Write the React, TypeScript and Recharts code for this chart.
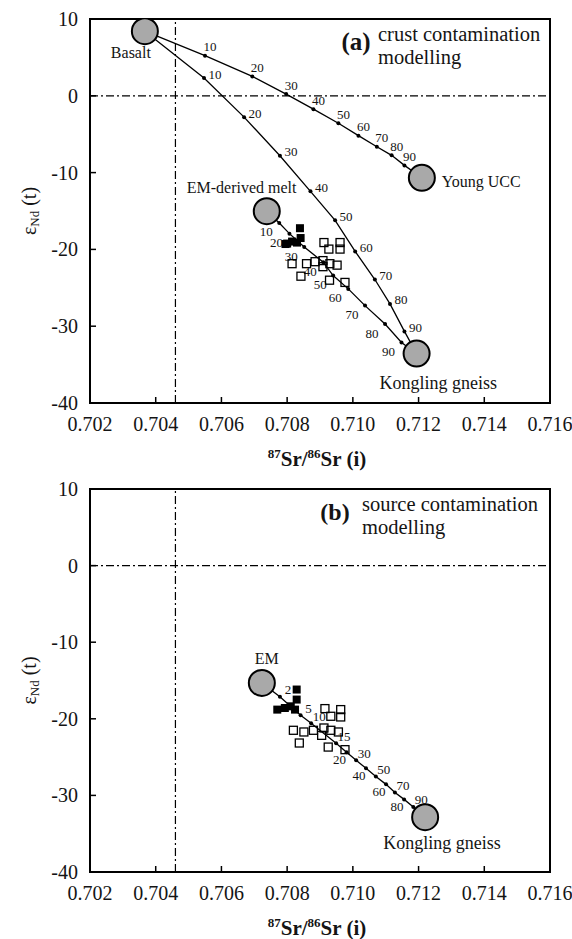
import React from 'react';
import { ScatterChart, Scatter, XAxis, YAxis, ReferenceLine, ReferenceArea, Label } from 'recharts';

const FONT = '"Liberation Serif", "Times New Roman", Times, serif';
const INK = '#141414';

// ---- axes ----
const xTicks = [0.702, 0.704, 0.706, 0.708, 0.71, 0.712, 0.714, 0.716];
const yTicks = [10, 0, -10, -20, -30, -40];
const bulkEarthSr = 0.7046;
const churNd = 0;

// ---- panel (a): crust contamination ----
const endNamesA = ['Basalt', 'Young UCC', 'EM-derived melt', 'Kongling gneiss'];
const endSrA = [0.70367, 0.7121, 0.70738, 0.71194];
const endNdA = [8.41, -10.68, -15.02, -33.56];

const stepsA = ['10', '20', '30', '40', '50', '60', '70', '80', '90'];
const uccSrA = [0.7055, 0.70694, 0.70797, 0.7088, 0.70956, 0.71017, 0.71073, 0.71118, 0.71157];
const uccNdA = [5.23, 2.52, 0.22, -1.74, -3.57, -5.19, -6.63, -7.75, -9.06];
const gneissSrA = [0.70547, 0.70669, 0.70778, 0.70871, 0.70946, 0.71007, 0.71067, 0.71113, 0.71157];
const gneissNdA = [2.31, -2.78, -7.8, -12.44, -16.21, -20.26, -23.92, -27.1, -30.68];
const meltSrA = [0.70776, 0.70807, 0.70852, 0.7091, 0.7094, 0.70986, 0.71037, 0.71098, 0.71148];
const meltNdA = [-16.56, -17.95, -19.7, -21.66, -23.4, -25.14, -27.32, -29.72, -32.12];

const filledSrA = [0.70839, 0.70841, 0.7083, 0.70815, 0.708, 0.70795];
const filledNdA = [-17.24, -18.52, -19.11, -18.98, -19.24, -19.3];
const openSrA = [0.70912, 0.70961, 0.70927, 0.70961, 0.70815, 0.70859, 0.70885, 0.70909, 0.7093, 0.70909, 0.70952, 0.70842, 0.70929, 0.70976];
const openNdA = [-19.11, -19.11, -19.96, -19.96, -21.86, -21.86, -21.6, -21.46, -21.86, -22.25, -22.05, -23.49, -24.01, -24.3];

// ---- panel (b): source contamination ----
const endNamesB = ['EM', 'Kongling gneiss'];
const endSrB = [0.70723, 0.7122];
const endNdB = [-15.32, -32.84];
const stepsB = ['2', '5', '10', '15', '20', '30', '40', '50', '60', '70', '80', '90'];
const srcSrB = [0.70778, 0.70841, 0.70873, 0.70949, 0.70981, 0.7101, 0.7104, 0.7107, 0.71101, 0.71128, 0.71156, 0.71184];
const srcNdB = [-17.12, -19.54, -20.59, -23.2, -24.38, -25.42, -26.47, -27.52, -28.56, -29.61, -30.52, -31.5];

const filledSrB = [0.70829, 0.70829, 0.7077, 0.70793, 0.70811, 0.70824];
const filledNdB = [-16.18, -17.49, -18.8, -18.59, -18.37, -18.8];
const openSrB = [0.70915, 0.70963, 0.70933, 0.70963, 0.70819, 0.70851, 0.7088, 0.70912, 0.70933, 0.70956, 0.70905, 0.70837, 0.70925, 0.70976];
const openNdB = [-18.67, -18.8, -19.67, -19.76, -21.5, -21.72, -21.5, -21.2, -21.5, -21.72, -22.16, -23.16, -23.69, -24.03];

// ---- helpers ----
type P = { x: number; y: number; label?: string; name?: string };
const pts = (xs: number[], ys: number[], labels?: string[]): P[] =>
  xs.map((x, i) => ({ x, y: ys[i], label: labels ? labels[i] : undefined }));
const ends = (names: string[], xs: number[], ys: number[]): P[] =>
  names.map((name, i) => ({ x: xs[i], y: ys[i], name }));

// text placement of end-member names relative to circle centre
const nameOffset: Record<string, [number, number, string]> = {
  Basalt: [-34, 27, 'start'],
  'Young UCC': [20, 9, 'start'],
  'EM-derived melt': [-80, -18, 'start'],
  'Kongling gneiss': [-37, 35, 'start'],
};
const nameOffsetB: Record<string, [number, number, string]> = {
  EM: [-7, -19, 'start'],
  'Kongling gneiss': [-42, 32, 'start'],
};

const XTick = (props: any) => {
  const { x, y, payload } = props;
  return (
    <g>
      <line x1={x} x2={x} y1={y} y2={y - 6} stroke="#000" strokeWidth={1.5} />
      <text x={x} y={y + 28} textAnchor="middle" fontSize={20} fontFamily={FONT} fill={INK}>
        {Number(payload.value).toFixed(3)}
      </text>
    </g>
  );
};
const YTick = (props: any) => {
  const { x, y, payload } = props;
  return (
    <g>
      <line x1={x} x2={x + 6} y1={y} y2={y} stroke="#000" strokeWidth={1.5} />
      <text x={x - 12} y={y + 7} textAnchor="end" fontSize={20} fontFamily={FONT} fill={INK}>
        {payload.value}
      </text>
    </g>
  );
};

const mixShape = (place: (l: string) => [number, number]) => (props: any) => {
  const { cx, cy, payload } = props;
  if (!payload || !payload.label) return <g />;
  const [dx, dy] = place(payload.label);
  return (
    <g>
      <circle cx={cx} cy={cy} r={2} fill="#000" />
      <text x={cx + dx} y={cy + dy} textAnchor="middle" dominantBaseline="central" fontSize={13} fontFamily={FONT} fill={INK}>
        {payload.label}
      </text>
    </g>
  );
};

const endShape = (offsets: Record<string, [number, number, string]>) => (props: any) => {
  const { cx, cy, payload } = props;
  const o = offsets[payload.name] || [0, 0, 'start'];
  const big = payload.name === 'Kongling gneiss';
  return (
    <g>
      <circle cx={cx} cy={cy} r={13} fill="#a9a9a9" stroke="#000" strokeWidth={2} />
      <text x={cx + o[0]} y={cy + o[1]} textAnchor={o[2] as any} fontSize={big ? 18 : 16} fontFamily={FONT} fill={INK}>
        {payload.name}
      </text>
    </g>
  );
};

const filledShape = (props: any) => {
  const { cx, cy } = props;
  return <rect x={cx - 4} y={cy - 4} width={8} height={8} fill="#000" />;
};
const openShape = (props: any) => {
  const { cx, cy } = props;
  return <rect x={cx - 4} y={cy - 4} width={8} height={8} fill="none" stroke="#000" strokeWidth={1.3} />;
};

const XTitle = (props: any) => {
  const vb = props.viewBox || {};
  const cx = vb.x + vb.width / 2 - 3;
  const y = vb.y + 63;
  return (
    <text x={cx} y={y} textAnchor="middle" fontFamily={FONT} fontWeight="bold" fontSize={21} fill={INK}>
      <tspan fontSize={13} dy={-8}>87</tspan>
      <tspan dy={8}>Sr/</tspan>
      <tspan fontSize={13} dy={-8}>86</tspan>
      <tspan dy={8}>Sr (i)</tspan>
    </text>
  );
};
const YTitle = (props: any) => {
  const vb = props.viewBox || {};
  const cx = 29;
  const cy = vb.y + vb.height / 2;
  return (
    <text x={cx} y={cy} transform={`rotate(-90 ${cx} ${cy})`} textAnchor="middle" dominantBaseline="central" fontFamily={FONT} fontSize={20} fill={INK}>
      ε<tspan fontSize={13} dy={5}>Nd</tspan>
      <tspan dy={-5}> (t)</tspan>
    </text>
  );
};

const lineStyle = { stroke: '#000', strokeWidth: 1.3 };

const panelChildren = (axisHeight: number) => [
  <XAxis key="xa" type="number" dataKey="x" domain={[0.702, 0.716]} ticks={xTicks} interval={0} allowDataOverflow axisLine={false} tickLine={false} tickSize={0} tickMargin={0} tick={<XTick />} height={axisHeight}>
    <Label content={<XTitle />} />
  </XAxis>,
  <YAxis key="ya" type="number" dataKey="y" domain={[-40, 10]} ticks={yTicks} interval={0} allowDataOverflow axisLine={false} tickLine={false} tickSize={0} tickMargin={0} tick={<YTick />} width={90}>
    <Label content={<YTitle />} />
  </YAxis>,
  <ReferenceLine key="rl1" y={churNd} stroke="#000" strokeWidth={1.2} strokeDasharray="8 3 2 3" />,
  <ReferenceLine key="rl2" x={bulkEarthSr} stroke="#000" strokeWidth={1.2} strokeDasharray="8 3 2 3" />,
  <ReferenceArea key="fr" x1={0.702} x2={0.716} y1={-40} y2={10} fill="none" fillOpacity={0} stroke="#000" strokeWidth={2} ifOverflow="visible" />,
];

export default function App() {
  const uccCurve = [{ x: endSrA[0], y: endNdA[0] }, ...pts(uccSrA, uccNdA, stepsA), { x: endSrA[1], y: endNdA[1] }];
  const gneissCurve = [{ x: endSrA[0], y: endNdA[0] }, ...pts(gneissSrA, gneissNdA, stepsA), { x: endSrA[3], y: endNdA[3] }];
  const meltCurve = [{ x: endSrA[2], y: endNdA[2] }, ...pts(meltSrA, meltNdA, stepsA), { x: endSrA[3], y: endNdA[3] }];
  const srcCurve = [{ x: endSrB[0], y: endNdB[0] }, ...pts(srcSrB, srcNdB, stepsB), { x: endSrB[1], y: endNdB[1] }];
  const belowB = ['20', '40', '60', '80'];

  return (
    <div style={{ position: 'absolute', left: 0, top: 0, width: 572, height: 939, background: '#fff' }}>
      <div style={{ position: 'absolute', left: 0, top: 0 }}>
        <ScatterChart width={572} height={478} margin={{ top: 19, right: 22, bottom: 0, left: 0 }}>
          {panelChildren(75)}
          <Scatter data={uccCurve} line={lineStyle} shape={mixShape(() => [5, -9])} isAnimationActive={false} />
          <Scatter data={gneissCurve} line={lineStyle} shape={mixShape(() => [11, -4])} isAnimationActive={false} />
          <Scatter data={meltCurve} line={lineStyle} shape={mixShape(() => [-13, 9])} isAnimationActive={false} />
          <Scatter data={pts(openSrA, openNdA)} shape={openShape} isAnimationActive={false} />
          <Scatter data={pts(filledSrA, filledNdA)} shape={filledShape} isAnimationActive={false} />
          <Scatter data={ends(endNamesA, endSrA, endNdA)} shape={endShape(nameOffset)} isAnimationActive={false} />
        </ScatterChart>
      </div>
      <div style={{ position: 'absolute', left: 0, top: 469 }}>
        <ScatterChart width={572} height={470} margin={{ top: 20, right: 22, bottom: 0, left: 0 }}>
          {panelChildren(67)}
          <Scatter data={srcCurve} line={lineStyle} shape={mixShape((l) => (belowB.includes(l) ? [-7, 7] : [8, -7]))} isAnimationActive={false} />
          <Scatter data={pts(openSrB, openNdB)} shape={openShape} isAnimationActive={false} />
          <Scatter data={pts(filledSrB, filledNdB)} shape={filledShape} isAnimationActive={false} />
          <Scatter data={ends(endNamesB, endSrB, endNdB)} shape={endShape(nameOffsetB)} isAnimationActive={false} />
        </ScatterChart>
      </div>
      <svg width={572} height={939} style={{ position: 'absolute', left: 0, top: 0, pointerEvents: 'none' }}>
        <text x={356} y={50} textAnchor="middle" fontFamily={FONT} fontWeight="bold" fontSize={25} fill={INK}>(a)</text>
        <text x={378} y={41} fontFamily={FONT} fontSize={20.5} fill={INK}>crust contamination</text>
        <text x={378} y={64} fontFamily={FONT} fontSize={20.5} fill={INK}>modelling</text>
        <text x={335} y={520} textAnchor="middle" fontFamily={FONT} fontWeight="bold" fontSize={24} fill={INK}>(b)</text>
        <text x={362} y={511} fontFamily={FONT} fontSize={20.5} fill={INK}>source contamination</text>
        <text x={362} y={534} fontFamily={FONT} fontSize={20.5} fill={INK}>modelling</text>
      </svg>
    </div>
  );
}
